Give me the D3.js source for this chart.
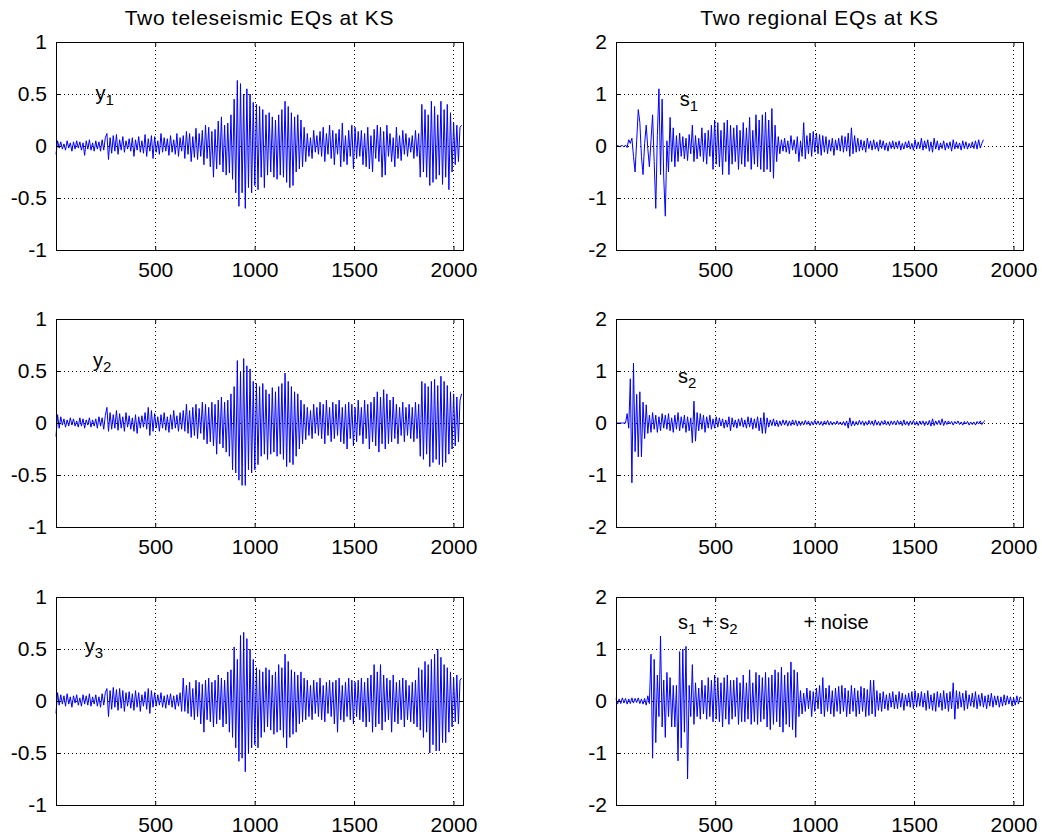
<!DOCTYPE html>
<html>
<head>
<meta charset="utf-8">
<script src="https://d3js.org/d3.v7.min.js"></script>
<style>
body{margin:0;background:#fff}
text{font-family:Arial,"Liberation Sans",sans-serif;fill:#000}
</style>
</head>
<body>
<div id="chart"></div>
<script>
//traces, one value read every 8 samples (sample 1, 9, 17 ...)
var step=8;

var y1=[-0.08,0.05,-0.02,0.04,-0.03,0.02,-0.04,0.05,-0.02,0.03,-0.05,0.04,-0.03,0.05,-0.02,0.04,
 -0.04,0.03,-0.09,0.05,-0.03,0.06,-0.04,0.03,-0.05,0.05,-0.03,0.04,-0.05,0.06,-0.04,0.08,
 0.12,-0.13,0.08,-0.07,0.10,-0.05,0.11,-0.08,0.06,-0.04,0.09,-0.06,0.05,-0.03,0.07,-0.05,
 0.08,-0.10,0.06,-0.04,0.09,-0.06,0.05,-0.07,0.11,-0.10,0.07,-0.05,0.10,-0.12,0.09,-0.06,
 0.05,-0.08,0.12,-0.06,0.08,-0.05,0.07,-0.09,0.10,-0.06,0.06,-0.08,0.12,-0.10,0.08,-0.05,
 0.10,-0.12,0.14,-0.08,0.12,-0.15,0.09,-0.11,0.17,-0.13,0.12,-0.10,0.15,-0.18,0.20,-0.12,
 0.18,-0.20,0.14,-0.30,0.16,-0.22,0.24,-0.18,0.28,-0.25,0.20,-0.28,0.22,-0.26,0.30,-0.32,
 0.45,-0.45,0.63,-0.58,0.60,-0.45,0.50,-0.60,0.55,-0.40,0.50,-0.45,0.42,-0.38,0.40,-0.42,
 0.38,-0.30,0.35,-0.40,0.30,-0.28,0.32,-0.25,0.28,-0.30,0.25,-0.32,0.30,-0.28,0.35,-0.30,
 0.43,-0.35,0.38,-0.40,0.32,-0.38,0.28,-0.25,0.30,-0.22,0.25,-0.20,0.18,-0.15,0.12,-0.10,
 0.08,-0.12,0.15,-0.06,0.10,-0.08,0.14,-0.10,0.18,-0.15,0.12,-0.08,0.20,-0.12,0.15,-0.18,
 0.12,-0.08,0.16,-0.20,0.22,-0.15,0.10,-0.18,0.15,-0.10,0.20,-0.22,0.18,-0.12,0.14,-0.10,
 0.15,-0.18,0.12,-0.20,0.18,-0.22,0.10,-0.25,0.16,-0.12,0.20,-0.15,0.18,-0.30,0.14,-0.28,
 0.20,-0.10,0.12,-0.15,0.08,-0.20,0.18,-0.12,0.10,-0.14,0.15,-0.08,0.12,-0.10,0.08,-0.06,
 0.10,-0.12,0.15,-0.10,0.12,-0.30,0.40,-0.25,0.35,-0.30,0.30,-0.38,0.43,-0.35,0.38,-0.32,
 0.30,-0.28,0.43,-0.37,0.35,-0.30,0.40,-0.42,0.32,-0.25,0.22,-0.18,0.20,-0.15,0.18,0.20];

var y2=[-0.13,0.08,-0.05,0.06,-0.02,0.04,-0.04,0.03,-0.03,0.05,-0.02,0.04,-0.03,0.02,-0.04,0.05,
 -0.03,0.04,-0.05,0.03,-0.02,0.05,-0.04,0.03,-0.03,0.04,-0.05,0.06,-0.03,0.05,-0.06,0.07,
 0.15,-0.08,0.10,-0.06,0.08,-0.05,0.12,-0.07,0.09,-0.05,0.06,-0.08,0.10,-0.04,0.07,-0.06,
 0.05,-0.08,0.08,-0.10,0.06,-0.05,0.07,-0.04,0.10,-0.06,0.15,-0.12,0.12,-0.08,0.09,-0.05,
 0.06,-0.08,0.08,-0.05,0.10,-0.07,0.06,-0.09,0.08,-0.06,0.12,-0.05,0.07,-0.08,0.10,-0.06,
 0.12,-0.08,0.18,-0.10,0.12,-0.14,0.15,-0.12,0.18,-0.15,0.14,-0.10,0.20,-0.16,0.18,-0.20,
 0.15,-0.18,0.20,-0.22,0.18,-0.30,0.22,-0.20,0.25,-0.24,0.20,-0.28,0.22,-0.32,0.28,-0.45,
 0.35,-0.48,0.60,-0.55,0.50,-0.60,0.62,-0.60,0.55,-0.45,0.52,-0.48,0.40,-0.45,0.38,-0.40,
 0.35,-0.32,0.38,-0.30,0.32,-0.35,0.28,-0.30,0.34,-0.28,0.30,-0.32,0.35,-0.30,0.38,-0.35,
 0.48,-0.42,0.40,-0.38,0.35,-0.40,0.30,-0.32,0.28,-0.25,0.22,-0.20,0.18,-0.16,0.15,-0.12,
 0.12,-0.15,0.18,-0.10,0.15,-0.12,0.20,-0.15,0.18,-0.20,0.22,-0.12,0.15,-0.18,0.20,-0.15,
 0.18,-0.12,0.22,-0.18,0.15,-0.20,0.18,-0.25,0.20,-0.15,0.18,-0.22,0.15,-0.18,0.22,-0.12,
 0.15,-0.20,0.22,-0.15,0.18,-0.25,0.20,-0.18,0.25,-0.22,0.30,-0.28,0.25,-0.20,0.32,-0.25,
 0.28,-0.20,0.22,-0.18,0.25,-0.15,0.18,-0.20,0.15,-0.12,0.20,-0.18,0.15,-0.12,0.18,-0.15,
 0.15,-0.18,0.20,-0.15,0.18,-0.32,0.40,-0.35,0.38,-0.30,0.35,-0.42,0.40,-0.38,0.42,-0.35,
 0.36,-0.40,0.45,-0.42,0.40,-0.38,0.36,-0.30,0.30,-0.25,0.28,-0.22,0.25,-0.18,0.22,0.28];

var y3=[-0.12,0.08,-0.04,0.06,-0.03,0.05,-0.05,0.07,-0.03,0.04,-0.06,0.05,-0.02,0.06,-0.04,0.03,
 -0.05,0.06,-0.03,0.05,-0.04,0.07,-0.05,0.04,-0.03,0.06,-0.05,0.04,-0.06,0.07,-0.04,0.08,
 0.12,-0.15,0.10,-0.08,0.13,-0.06,0.11,-0.09,0.12,-0.07,0.10,-0.10,0.08,-0.05,0.09,-0.07,
 0.07,-0.09,0.10,-0.06,0.08,-0.10,0.06,-0.05,0.09,-0.08,0.12,-0.12,0.10,-0.06,0.08,-0.05,
 0.06,-0.04,0.08,-0.06,0.05,-0.07,0.06,-0.04,0.07,-0.06,0.05,-0.08,0.06,-0.05,0.08,-0.10,
 0.22,-0.10,0.15,-0.12,0.18,-0.15,0.12,-0.18,0.20,-0.15,0.18,-0.22,0.16,-0.30,0.20,-0.18,
 0.22,-0.20,0.18,-0.25,0.20,-0.22,0.25,-0.18,0.22,-0.25,0.20,-0.22,0.28,-0.30,0.30,-0.35,
 0.52,-0.45,0.40,-0.58,0.63,-0.55,0.66,-0.68,0.60,-0.50,0.50,-0.45,0.40,-0.42,0.32,-0.45,
 0.30,-0.35,0.28,-0.30,0.32,-0.25,0.30,-0.28,0.25,-0.32,0.28,-0.30,0.35,-0.28,0.32,-0.35,
 0.45,-0.45,0.38,-0.35,0.30,-0.32,0.28,-0.30,0.25,-0.22,0.28,-0.20,0.22,-0.18,0.20,-0.15,
 0.15,-0.18,0.20,-0.12,0.18,-0.15,0.22,-0.18,0.15,-0.20,0.18,-0.12,0.20,-0.15,0.18,-0.22,
 0.20,-0.30,0.22,-0.18,0.15,-0.20,0.18,-0.15,0.22,-0.18,0.20,-0.22,0.18,-0.15,0.20,-0.18,
 0.22,-0.20,0.18,-0.25,0.22,-0.20,0.25,-0.30,0.35,-0.25,0.28,-0.22,0.35,-0.28,0.25,-0.20,
 0.22,-0.18,0.20,-0.30,0.25,-0.20,0.18,-0.22,0.20,-0.18,0.22,-0.25,0.20,-0.18,0.15,-0.20,
 0.18,-0.22,0.20,-0.25,0.32,-0.28,0.30,-0.35,0.38,-0.30,0.35,-0.50,0.40,-0.42,0.45,-0.48,
 0.50,-0.48,0.42,-0.40,0.35,-0.40,0.32,-0.30,0.28,-0.25,0.22,-0.20,0.25,-0.22,0.20,0.22];

var s1=[0.00,0.01,-0.01,0.00,0.01,-0.02,0.02,-0.03,0.12,0.05,0.15,-0.20,-0.50,0.10,0.70,0.45,
 -0.20,-0.55,0.05,0.40,-0.05,-0.40,0.10,0.60,-0.30,-1.20,0.20,1.10,-0.55,0.90,-0.60,-1.35,
 0.10,-0.50,0.55,-0.30,0.35,-0.40,0.20,-0.30,0.25,-0.20,0.18,-0.25,0.15,-0.28,0.22,-0.15,
 0.40,-0.30,0.20,-0.25,0.15,-0.20,0.35,-0.30,0.25,-0.35,0.30,-0.20,0.40,-0.45,0.50,-0.35,
 0.45,-0.40,0.30,-0.55,0.45,-0.30,0.50,-0.55,0.40,-0.35,0.35,-0.30,0.40,-0.45,0.30,-0.35,
 0.45,-0.40,0.35,-0.30,0.55,-0.45,0.30,-0.35,0.60,-0.40,0.50,-0.45,0.60,-0.50,0.65,-0.45,
 0.50,-0.50,0.72,-0.62,0.40,-0.30,0.18,-0.15,0.12,-0.10,0.15,-0.12,0.10,-0.15,0.20,-0.08,
 0.12,-0.15,0.18,-0.30,0.10,-0.20,0.45,-0.25,0.20,-0.15,0.25,-0.20,0.28,-0.12,0.25,-0.15,
 0.22,-0.18,0.20,-0.12,0.18,-0.15,0.12,-0.10,0.15,-0.18,0.12,-0.08,0.15,-0.10,0.20,-0.12,
 0.18,-0.10,0.25,-0.20,0.35,-0.15,0.20,-0.12,0.15,-0.10,0.12,-0.08,0.10,-0.12,0.15,-0.05,
 0.10,-0.08,0.12,-0.06,0.08,-0.10,0.12,-0.05,0.10,-0.08,0.06,-0.10,0.08,-0.05,0.10,-0.06,
 0.08,-0.05,0.10,-0.08,0.05,-0.06,0.08,-0.04,0.10,-0.06,0.05,-0.08,0.12,-0.06,0.08,-0.05,
 0.15,-0.08,0.10,-0.05,0.12,-0.10,0.08,-0.12,0.15,-0.06,0.10,-0.08,0.06,-0.05,0.10,-0.08,
 0.06,-0.05,0.08,-0.10,0.12,-0.06,0.08,-0.05,0.06,-0.08,0.10,-0.05,0.08,-0.06,0.05,-0.04,
 0.08,-0.05,0.10,-0.06,0.12,-0.04,0.05,0.12];

var s2=[0,0,0,0,0,0,0,0.18,-0.10,0.85,-1.15,1.15,-0.55,0.55,-0.65,0.60,
 -0.65,0.40,-0.30,0.35,-0.20,0.15,-0.18,0.20,-0.12,0.15,-0.18,0.12,-0.15,0.18,-0.10,0.15,
 -0.12,0.18,-0.15,0.10,-0.18,0.15,-0.12,0.20,-0.15,0.12,-0.10,0.15,-0.18,0.12,-0.15,0.10,
 -0.38,0.42,-0.35,0.20,-0.15,0.18,-0.12,0.15,-0.18,0.12,-0.10,0.15,-0.12,0.08,-0.10,0.12,
 -0.08,0.10,-0.06,0.08,-0.10,0.06,-0.08,0.12,-0.15,0.10,-0.08,0.06,-0.10,0.08,-0.06,0.10,
 -0.08,0.06,-0.10,0.12,-0.08,0.10,-0.12,0.08,-0.10,0.12,-0.15,0.10,-0.20,0.20,-0.20,0.10,
 -0.08,0.06,-0.05,0.08,-0.06,0.05,-0.07,0.04,-0.05,0.06,-0.04,0.05,-0.06,0.04,-0.05,0.06,
 -0.04,0.05,-0.06,0.04,-0.05,0.03,-0.04,0.05,-0.03,0.04,-0.05,0.03,-0.04,0.05,-0.03,0.04,
 -0.04,0.03,-0.05,0.04,-0.03,0.05,-0.04,0.03,-0.04,0.02,-0.03,0.04,-0.03,0.02,-0.04,0.03,
 -0.05,0.04,-0.10,0.10,-0.06,0.04,-0.05,0.03,-0.04,0.05,-0.03,0.04,-0.05,0.03,-0.04,0.05,
 -0.03,0.04,-0.05,0.06,-0.04,0.03,-0.05,0.04,-0.03,0.05,-0.04,0.03,-0.05,0.04,-0.03,0.04,
 -0.04,0.05,-0.03,0.04,-0.05,0.06,-0.04,0.03,-0.05,0.04,-0.03,0.05,-0.04,0.03,-0.05,0.04,
 -0.03,0.04,-0.05,0.03,-0.04,0.05,-0.06,0.08,-0.05,0.04,-0.03,0.05,-0.04,0.08,-0.05,0.04,
 -0.03,0.04,-0.02,0.03,-0.04,0.03,-0.02,0.04,-0.03,0.02,-0.04,0.03,-0.02,0.03,-0.04,0.02,
 -0.03,0.02,-0.04,0.03,-0.02,0.04,-0.03,0.02,0.05];

var s3=[0.05,-0.06,0.04,-0.05,0.06,-0.04,0.05,-0.06,0.04,-0.05,0.06,-0.04,0.05,-0.03,0.06,-0.05,
 0.04,-0.06,0.05,-0.08,0.10,-0.05,0.90,-1.10,0.80,-0.80,0.50,-0.30,1.25,-0.50,0.40,-0.70,
 0.55,-0.30,0.45,-0.50,0.30,-0.50,0.30,-1.15,0.95,-0.90,1.00,-0.60,1.05,-1.50,0.30,-0.30,
 0.70,-0.45,0.35,-0.30,0.25,-0.35,0.40,-0.25,0.30,-0.35,0.45,-0.30,0.40,-0.40,0.50,-0.35,
 0.45,-0.40,0.35,-0.50,0.45,-0.35,0.50,-0.45,0.40,-0.35,0.40,-0.30,0.45,-0.45,0.35,-0.40,
 0.50,-0.40,0.35,-0.35,0.60,-0.45,0.35,-0.40,0.55,-0.45,0.50,-0.40,0.45,-0.35,0.55,-0.50,
 0.45,-0.55,0.50,-0.45,0.60,-0.40,0.55,-0.50,0.65,-0.60,0.50,-0.45,0.55,-0.50,0.75,-0.55,
 0.60,-0.70,0.55,-0.30,0.20,-0.25,0.15,-0.20,0.25,-0.15,0.20,-0.30,0.18,-0.20,0.25,-0.15,
 0.30,-0.25,0.45,-0.30,0.25,-0.20,0.30,-0.25,0.20,-0.30,0.25,-0.20,0.28,-0.25,0.30,-0.20,
 0.25,-0.30,0.20,-0.25,0.30,-0.20,0.25,-0.30,0.20,-0.25,0.28,-0.20,0.25,-0.30,0.22,-0.28,
 0.40,-0.25,0.40,-0.30,0.20,-0.18,0.15,-0.20,0.18,-0.15,0.12,-0.18,0.15,-0.12,0.18,-0.15,
 0.12,-0.15,0.18,-0.12,0.15,-0.18,0.12,-0.10,0.15,-0.12,0.18,-0.15,0.20,-0.12,0.15,-0.10,
 0.18,-0.12,0.15,-0.18,0.20,-0.15,0.12,-0.18,0.15,-0.20,0.18,-0.12,0.15,-0.18,0.20,-0.15,
 0.15,-0.20,0.18,-0.15,0.35,-0.35,0.20,-0.15,0.18,-0.12,0.15,-0.18,0.20,-0.15,0.12,-0.10,
 0.15,-0.12,0.18,-0.15,0.12,-0.10,0.15,-0.12,0.10,-0.15,0.12,-0.10,0.15,-0.12,0.10,-0.08,
 0.10,-0.12,0.08,-0.10,0.12,-0.08,0.10,-0.06,0.08,-0.10,0.06,-0.08,0.10,-0.06,0.08,0.05];

var xTicks=[500,1000,1500,2000];
var leftTicks=[-1,-0.5,0,0.5,1];
var rightTicks=[-2,-1,0,1,2];
var titles=["Two teleseismic EQs at KS","Two regional EQs at KS"];

//layout
var colX=[56,616], rowY=[42,319,597], w=407, h=208;

var svg=d3.select("#chart").append("svg")
          .attr("width",1042)
          .attr("height",837);

var panels=[
  {data:y1,col:0,row:0,ticks:leftTicks,lab:"y",sub:"1",lx:200,ly:0.44},
  {data:y2,col:0,row:1,ticks:leftTicks,lab:"y",sub:"2",lx:187,ly:0.54},
  {data:y3,col:0,row:2,ticks:leftTicks,lab:"y",sub:"3",lx:146,ly:0.46},
  {data:s1,col:1,row:0,ticks:rightTicks,lab:"s",sub:"1",lx:322,ly:0.76},
  {data:s2,col:1,row:1,ticks:rightTicks,lab:"s",sub:"2",lx:313,ly:0.76},
  {data:s3,col:1,row:2,ticks:rightTicks,lab:null}
];

panels.forEach(function(p){
  var g=svg.append("g")
          .attr("transform","translate("+colX[p.col]+","+rowY[p.row]+")");
  var x=d3.scaleLinear().domain([1,2048]).range([0,w]);
  var y=d3.scaleLinear().domain([p.ticks[0],p.ticks[4]]).range([h,0]);

  //dotted grid
  g.selectAll(".vgrid").data(xTicks).enter().append("line")
    .attr("x1",function(d){return Math.round(x(d))+0.5})
    .attr("x2",function(d){return Math.round(x(d))+0.5})
    .attr("y1",0).attr("y2",h)
    .attr("stroke","#000").attr("stroke-dasharray","1,3");
  g.selectAll(".hgrid").data(p.ticks.slice(1,4)).enter().append("line")
    .attr("y1",function(d){return Math.round(y(d))+0.5})
    .attr("y2",function(d){return Math.round(y(d))+0.5})
    .attr("x1",0).attr("x2",w)
    .attr("stroke","#000").attr("stroke-dasharray","1,3");

  //trace
  var line=d3.line()
    .x(function(d,i){return x(1+i*step)})
    .y(function(d){return y(d)});
  g.append("path").datum(p.data)
    .attr("d",line)
    .attr("fill","none")
    .attr("stroke","#0000ff")
    .attr("stroke-width",1);

  //axes, ticks pointing in
  var bottom=g.append("g").attr("transform","translate(0,"+h+")")
    .call(d3.axisBottom(x).tickValues(xTicks).tickSizeInner(-4).tickSizeOuter(0).tickPadding(12)
      .tickFormat(d3.format("d")));
  var top=g.append("g")
    .call(d3.axisTop(x).tickValues(xTicks).tickSizeInner(-4).tickSizeOuter(0).tickFormat(""));
  var left=g.append("g")
    .call(d3.axisLeft(y).tickValues(p.ticks).tickSizeInner(-4).tickSizeOuter(0).tickPadding(9)
      .tickFormat(function(d){return String(d)}));
  var right=g.append("g").attr("transform","translate("+w+",0)")
    .call(d3.axisRight(y).tickValues(p.ticks).tickSizeInner(-4).tickSizeOuter(0).tickFormat(""));
  [bottom,top,left,right].forEach(function(a){
    a.select(".domain").remove();
    a.selectAll("text").style("font-size","21px").attr("fill","#000");
  });

  g.append("rect")
    .attr("x",0.5).attr("y",0.5)
    .attr("width",w).attr("height",h)
    .attr("fill","none").attr("stroke","#000");

  //trace label
  if(p.lab){
    var t=g.append("text")
      .attr("x",x(p.lx)).attr("y",y(p.ly))
      .style("font-size","20px")
      .text(p.lab);
    t.append("tspan").attr("dy",5).style("font-size","15px").text(p.sub);
  }else{
    var t2=g.append("text")
      .attr("x",x(313)).attr("y",y(1.39))
      .style("font-size","20px")
      .text("s");
    t2.append("tspan").attr("dy",5).style("font-size","15px").text("1");
    t2.append("tspan").attr("dy",-5).text(" + s");
    t2.append("tspan").attr("dy",5).style("font-size","15px").text("2");
    g.append("text")
      .attr("x",x(944)).attr("y",y(1.39))
      .style("font-size","20px")
      .text("+ noise");
  }

  if(p.row==0){
    g.append("text")
      .attr("x",w/2).attr("y",25-rowY[0])
      .attr("text-anchor","middle")
      .style("font-size","21px")
      .style("letter-spacing","0.7px")
      .text(titles[p.col]);
  }
});
</script>
</body>
</html>
